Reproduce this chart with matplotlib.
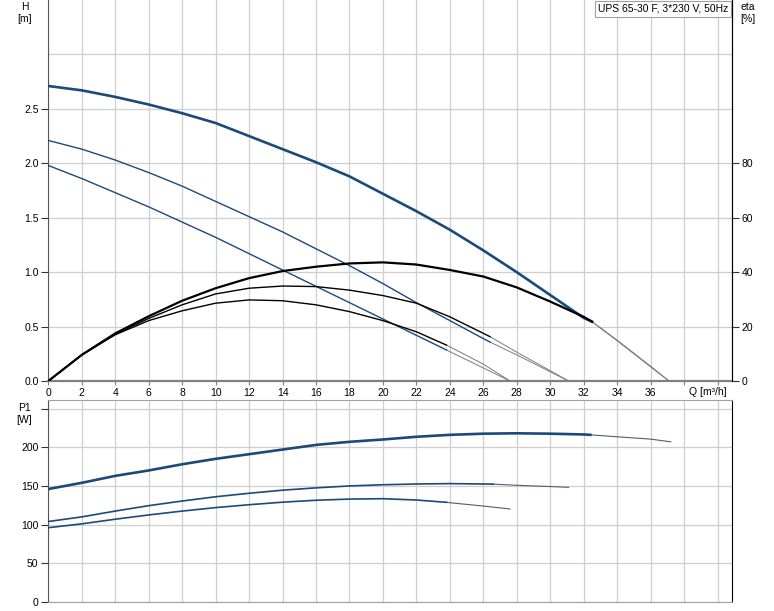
import matplotlib.pyplot as plt

plt.rcParams['font.family'] = ['Liberation Sans', 'DejaVu Sans']
plt.rcParams['font.size'] = 7.5

# Head curves H [m] (thick part + extrapolated thin part)
q_h1 = [0, 2, 4, 6, 8, 10, 12, 14, 16, 18, 20, 22, 24, 26, 28, 30, 32, 32.5]
h1 = [2.71, 2.67, 2.61, 2.54, 2.46, 2.37, 2.25, 2.13, 2.01, 1.88, 1.72, 1.56, 1.39, 1.20, 1.00, 0.79, 0.58, 0.545]
q_h1_ext = [32.5, 33, 34, 35, 36, 37.1]
h1_ext = [0.545, 0.49, 0.375, 0.256, 0.136, 0]

q_h2 = [0, 2, 4, 6, 8, 10, 12, 14, 16, 18, 20, 22, 24, 26, 26.4]
h2 = [2.21, 2.13, 2.03, 1.915, 1.79, 1.65, 1.51, 1.37, 1.215, 1.06, 0.895, 0.72, 0.555, 0.39, 0.358]
q_h2_ext = [26.4, 28, 30, 31.1]
h2_ext = [0.358, 0.24, 0.085, 0]

q_h3 = [0, 2, 4, 6, 8, 10, 12, 14, 16, 18, 20, 22, 23.8]
h3 = [1.98, 1.86, 1.73, 1.60, 1.46, 1.32, 1.17, 1.02, 0.87, 0.72, 0.57, 0.42, 0.285]
q_h3_ext = [23.8, 24, 26, 27.6]
h3_ext = [0.285, 0.27, 0.12, 0]

# Efficiency curves eta [%]
q_e1 = [0, 2, 4, 6, 8, 10, 12, 14, 16, 18, 20, 22, 24, 26, 28, 30, 32, 32.5]
e1 = [0, 9.6, 17.5, 23.8, 29.5, 34.1, 37.8, 40.4, 42.0, 43.2, 43.6, 42.8, 40.8, 38.4, 34.4, 29.2, 23.6, 21.8]
q_e1_ext = [32.5, 33, 34, 35, 36, 37.1]
e1_ext = [21.8, 19.4, 14.8, 10.0, 5.2, 0]

q_e2 = [0, 2, 4, 6, 8, 10, 12, 14, 16, 18, 20, 22, 24, 26.4]
e2 = [0, 9.6, 17.2, 23.0, 28.0, 32.0, 34.1, 34.9, 34.7, 33.4, 31.4, 28.6, 23.6, 16.3]
q_e2_ext = [26.4, 28, 30, 31.1]
e2_ext = [16.3, 10.6, 3.8, 0]

q_e3 = [0, 2, 4, 6, 8, 10, 12, 14, 16, 18, 20, 22, 23.8]
e3 = [0, 9.6, 17.0, 22.2, 25.8, 28.6, 29.8, 29.5, 28.0, 25.5, 22.2, 18.1, 13.2]
q_e3_ext = [23.8, 25, 26, 27.6]
e3_ext = [13.2, 9.4, 6.2, 0]

# Power curves P1 [W]
q_p1 = [0, 2, 4, 6, 8, 10, 12, 14, 16, 18, 20, 22, 24, 26, 28, 30, 32, 32.4]
p1 = [146, 154, 163, 170, 178, 185, 191, 197, 203, 207, 210, 213.5, 216, 217.5, 218, 217.5, 216.5, 216]
q_p1_ext = [32.4, 34, 36, 37.2]
p1_ext = [216, 213.5, 210.5, 207]

q_p2 = [0, 2, 4, 6, 8, 10, 12, 14, 16, 18, 20, 22, 24, 26, 26.6]
p2 = [104, 110, 117.5, 124.5, 130.5, 136, 140.5, 144.5, 147.5, 150, 151.5, 152.5, 153, 152.5, 152.3]
q_p2_ext = [26.6, 28, 30, 31.1]
p2_ext = [152.3, 150.8, 149.2, 148.2]

q_p3 = [0, 2, 4, 6, 8, 10, 12, 14, 16, 18, 20, 22, 23.8]
p3 = [96, 101, 107, 112.5, 117.5, 122, 125.7, 129, 131.5, 133, 133.5, 131.8, 128.8]
q_p3_ext = [23.8, 24, 26, 27.6]
p3_ext = [128.8, 128.3, 124, 120.2]

x_ticks = list(range(0, 41, 2))
x_labels = [str(t) if t <= 36 else '' for t in x_ticks]

blue = '#1b4a7a'
thin_grey = '#7a7a7a'
thin_blue = '#4d5d74'
grid_c = '#cfcfcf'

fig = plt.figure(figsize=(7.74, 6.11), dpi=100)
ax = fig.add_axes([0.0624, 0.3764, 0.883, 0.6236])
axp = fig.add_axes([0.0624, 0.0147, 0.883, 0.3306])

# ---- top panel: H and eta ----
ax.plot(q_h1, h1, color=blue, lw=1.9, zorder=4, solid_joinstyle='round')
ax.plot(q_h2, h2, color=blue, lw=1.0, zorder=4, solid_joinstyle='round')
ax.plot(q_h3, h3, color=blue, lw=1.0, zorder=4, solid_joinstyle='round')
for q, h in [(q_h1_ext, h1_ext), (q_h2_ext, h2_ext), (q_h3_ext, h3_ext)]:
    ax.plot(q, h, color=thin_grey, lw=0.7, zorder=3)

ax2 = ax.twinx()
ax2.plot(q_e1, e1, color='black', lw=1.6, zorder=4, solid_joinstyle='round')
ax2.plot(q_e2, e2, color='black', lw=1.0, zorder=4, solid_joinstyle='round')
ax2.plot(q_e3, e3, color='black', lw=1.0, zorder=4, solid_joinstyle='round')
for q, e in [(q_e1_ext, e1_ext), (q_e2_ext, e2_ext), (q_e3_ext, e3_ext)]:
    ax2.plot(q, e, color=thin_grey, lw=0.7, zorder=3)

ax.set_xlim(0, 40.85)
ax.set_ylim(0, 3.5)
ax2.set_ylim(0, 140)

ax.set_xticks(x_ticks)
ax.set_xticklabels(x_labels)
ax.set_yticks([0, 0.5, 1.0, 1.5, 2.0, 2.5, 3.0])
ax.set_yticklabels(['0.0', '0.5', '1.0', '1.5', '2.0', '2.5', ''])
ax.yaxis.get_major_ticks()[-1].tick1line.set_visible(False)
ax2.set_yticks([0, 20, 40, 60, 80])
ax.grid(True, color=grid_c, lw=0.9)
ax.tick_params(axis='x', length=3, color='#808080', pad=2)
ax.tick_params(axis='y', length=5, color='#333333', pad=2)
ax2.tick_params(axis='y', length=5, color='#333333', pad=2)

ax.spines['top'].set_visible(False)
ax2.spines['top'].set_visible(False)
ax.spines['bottom'].set_color('#808080')
ax.spines['bottom'].set_linewidth(1.6)
ax.spines['left'].set_color('#555555')
ax2.spines['left'].set_visible(False)
ax2.spines['right'].set_color('black')
ax2.spines['bottom'].set_visible(False)

ax.text(-0.035, 0.995, 'H\n[m]', transform=ax.transAxes, ha='center', va='top', linespacing=1.3)
ax2.text(1.024, 0.995, 'eta\n[%]', transform=ax2.transAxes, ha='center', va='top', linespacing=1.3)
ax.text(0.993, -0.028, 'Q [m\u00b3/h]', transform=ax.transAxes, ha='right', va='center')
ax.text(0.995, 0.99, 'UPS 65-30 F, 3*230 V, 50Hz', transform=ax.transAxes, ha='right', va='top',
        bbox=dict(boxstyle='square,pad=0.3', fc='white', ec='#a0a0a0', lw=0.8), zorder=10)

# ---- bottom panel: P1 ----
axp.plot(q_p1, p1, color=blue, lw=1.9, zorder=4, solid_joinstyle='round')
axp.plot(q_p2, p2, color=blue, lw=1.2, zorder=4, solid_joinstyle='round')
axp.plot(q_p3, p3, color=blue, lw=1.2, zorder=4, solid_joinstyle='round')
for q, p in [(q_p1_ext, p1_ext), (q_p2_ext, p2_ext), (q_p3_ext, p3_ext)]:
    axp.plot(q, p, color=thin_blue, lw=0.8, zorder=3)

axp.set_xlim(0, 40.85)
axp.set_ylim(0, 261)
axp.set_xticks(x_ticks)
axp.set_xticklabels([])
axp.set_yticks([0, 50, 100, 150, 200, 250])
axp.set_yticklabels(['0', '50', '100', '150', '200', ''])
axp.grid(True, color=grid_c, lw=0.9)
axp.tick_params(axis='x', length=0)
axp.tick_params(axis='y', length=5, color='#333333', pad=2)
axp.spines['top'].set_color('#a0a0a0')
axp.spines['bottom'].set_color('#a0a0a0')
axp.spines['left'].set_color('#555555')
axp.spines['right'].set_color('black')
axp.text(-0.035, 0.985, 'P1\n[W]', transform=axp.transAxes, ha='center', va='top', linespacing=1.3)

fig.savefig('out.png', dpi=100)
